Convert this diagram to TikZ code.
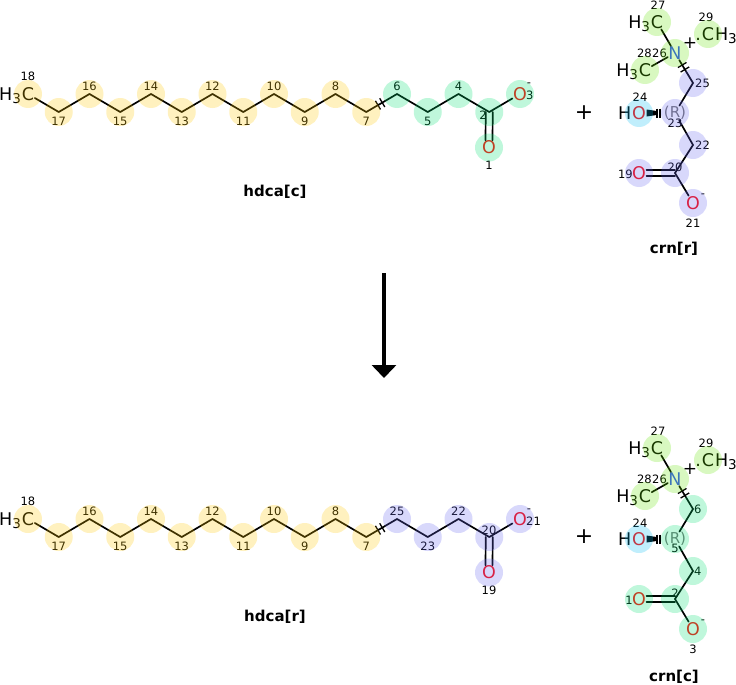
\documentclass[tikz,border=0pt]{standalone}
\usepackage{fontspec}
\setmainfont{DejaVu Sans}
\usetikzlibrary{arrows.meta, positioning, calc}
\definecolor{hlyellow}{RGB}{255, 200, 0}
\definecolor{hlmint}{RGB}{0, 224, 112}
\definecolor{hllavender}{RGB}{100, 100, 240}
\definecolor{hllime}{RGB}{99, 227, 3}
\definecolor{hlcyan}{RGB}{3, 187, 243}
\definecolor{ored}{RGB}{255, 13, 13}
\definecolor{nblue}{RGB}{48, 80, 248}
\newcommand{\subthree}{\raisebox{-0.3ex}{\fontsize{13.5}{13.5}\selectfont 3}}
\tikzset{
  atom/.style={inner sep=0.5pt, font=\fontsize{17.5}{17.5}\selectfont},
  num/.style={inner sep=0pt, font=\fontsize{11.5}{11.5}\selectfont},
  stereo/.style={inner sep=0.5pt, text=black!55, font=\fontsize{15}{15}\selectfont},
  charge/.style={inner sep=0pt, font=\fontsize{17}{17}\selectfont},
  molname/.style={font=\bfseries\fontsize{15}{15}\selectfont},
  plus/.style={font=\fontsize{22}{22}\selectfont},
  bond/.style={line width=1.7pt, line cap=round},
  hashmark/.style={line width=1.3pt},
  hl/.style={fill=#1, fill opacity=0.25},
  reaction/.style={line width=4pt, -{Triangle[width=24pt,length=13pt]}},
}

\begin{document}
\begin{tikzpicture}[x=1pt, y=-1pt]
  \useasboundingbox (0,0) rectangle (736,685);

  % hdca[c]
  \node[atom] (t0) at (28,94) {C};
  \node[atom, base left=0pt of t0, inner sep=0pt] (t0h) {H\subthree};
  \foreach \k in {1,...,15}
    \coordinate (t\k) at ({28+30.75*\k}, {94+18*mod(\k,2)});
  \node[atom, text=ored] (t16) at (520,94) {O};
  \node[atom, text=ored] (t17) at (489,147.5) {O};

  \node[num] (tn0) at (28,76) {18};
  \foreach \k/\lab in {1/17,2/16,3/15,4/14,5/13,6/12,7/11,8/10,9/9,10/8,11/7,12/6,13/5,14/4}
    \node[num] (tn\k) at ({28+30.75*\k}, {86+35*mod(\k,2)}) {\lab};
  \node[num] (tn15) at (483,115) {2};
  \node[num, anchor=west] (tn16) at (526,95) {3};
  \node[num] (tq16) at (529,85) {-};
  \node[num] (tn17) at (489,165) {1};

  \foreach \k [count=\j] in {0,...,15}
    \draw[bond] (t\k) -- (t\j);
  \draw[bond] ([xshift=-3.5pt]t15) -- ([xshift=-3.5pt]t17.north);
  \draw[bond] ([xshift=3.5pt]t15) -- ([xshift=3.5pt]t17.north);
  \foreach \f in {0.38,0.52}
    \draw[hashmark] ($(t11)!\f!(t12)!5pt!90:(t12)$) -- ($(t11)!\f!(t12)!5pt!-90:(t12)$);

  \foreach \k in {0,...,11}
    \fill[hl=hlyellow] (t\k.center) circle[radius=14pt];
  \foreach \k in {12,...,17}
    \fill[hl=hlmint] (t\k.center) circle[radius=14pt];

  \node[molname] (hdcac) at (275,192) {hdca[c]};
  \node[plus] (plus1) at (584,113) {+};

  % crn[r]
  \node[atom, text=nblue] (uN) at (675,53) {N};
  \node[atom] (uC27) at (657,22) {C};
  \node[atom, base left=0pt of uC27, inner sep=0pt] (uH27) {H\subthree};
  \node[atom] (uC28) at (645,70) {C};
  \node[atom, base left=0pt of uC28, inner sep=0pt] (uH28) {H\subthree};
  \node[atom] (uC29) at (708,34) {C};
  \node[atom, base right=0pt of uC29, inner sep=0pt] (uH29) {H\subthree};
  \node[atom, base left=0pt of uC29, inner sep=0pt] (uD29) {.};
  \coordinate (uC25) at (693,83);
  \node[stereo] (uC23) at (675,113) {(R)};
  \node[atom, text=ored] (uO24) at (639,113) {O};
  \node[atom, base left=0pt of uO24, inner sep=0pt] (uH24) {H};
  \coordinate (uC22) at (693,145);
  \coordinate (uC20) at (675,173);
  \node[atom, text=ored] (uO19) at (639,173) {O};
  \node[atom, text=ored] (uO21) at (693,203) {O};

  \node[num] (un27) at (658,5) {27};
  \node[num] (un29) at (706,17) {29};
  \node[num, anchor=east] (un28) at (652,53) {28};
  \node[num, anchor=west] (un26) at (652,53) {26};
  \node[num, anchor=west] (un25) at (695,83) {25};
  \node[num] (un24) at (640,97) {24};
  \node[num] (un23) at (675,123) {23};
  \node[num, anchor=west] (un22) at (695,145) {22};
  \node[num] (un20) at (675,167) {20};
  \node[num, anchor=east] (un19) at (633,174) {19};
  \node[num] (un21) at (693,223) {21};
  \node[num] (uq21) at (703,196) {-};
  \node[charge] (uq26) at (690,43) {+};

  \draw[bond] (uN) -- (uC27);
  \draw[bond] (uN) -- (uC28);
  \draw[bond] (uN) -- (uC25) -- (uC23);
  \draw[bond] (uC23) -- (uC22) -- (uC20) -- (uO21);
  \draw[bond] ([yshift=3pt]uC20) -- ([yshift=3pt]uO19.east);
  \draw[bond] ([yshift=-3pt]uC20) -- ([yshift=-3pt]uO19.east);
  \foreach \f in {0.4,0.55}
    \draw[hashmark] ($(uN.center)!\f!(uC25)!5pt!90:(uC25)$) -- ($(uN.center)!\f!(uC25)!5pt!-90:(uC25)$);
  \coordinate (uW) at ($(uO24.east)!0.6!(uC23.west)$);
  \fill ([yshift=3.5pt]uO24.east) -- ([yshift=-3.5pt]uO24.east) -- ([yshift=-2pt]uW) -- ([yshift=2pt]uW) -- cycle;
  \foreach \f in {0.62,0.8}
    \draw[hashmark] ($(uO24.east)!\f!(uC23.west)!4.5pt!90:(uC23.west)$) -- ($(uO24.east)!\f!(uC23.west)!4.5pt!-90:(uC23.west)$);

  \foreach \a in {uC27,uC28,uC29,uN}
    \fill[hl=hllime] (\a.center) circle[radius=14pt];
  \fill[hl=hlcyan] (uO24.center) circle[radius=14pt];
  \foreach \a in {uC25,uC23,uC22,uC20,uO19,uO21}
    \fill[hl=hllavender] (\a.center) circle[radius=14pt];

  \node[molname] (crnr) at (674,249) {crn[r]};

  % reaction arrow
  \coordinate (arrtop) at (384,273);
  \coordinate (arrbot) at (384,378);
  \draw[reaction] (arrtop) -- (arrbot);

  % hdca[r]
  \begin{scope}[shift={(0,425)}]
  \node[atom] (b0) at (28,94) {C};
  \node[atom, base left=0pt of b0, inner sep=0pt] (b0h) {H\subthree};
  \foreach \k in {1,...,15}
    \coordinate (b\k) at ({28+30.75*\k}, {94+18*mod(\k,2)});
  \node[atom, text=ored] (b16) at (520,94) {O};
  \node[atom, text=ored] (b17) at (489,147.5) {O};

  \node[num] (bn0) at (28,76) {18};
  \foreach \k/\lab in {1/17,2/16,3/15,4/14,5/13,6/12,7/11,8/10,9/9,10/8,11/7,12/25,13/23,14/22}
    \node[num] (bn\k) at ({28+30.75*\k}, {86+35*mod(\k,2)}) {\lab};
  \node[num] (bn15) at (489,105) {20};
  \node[num, anchor=west] (bn16) at (526,96) {21};
  \node[num] (bq16) at (529,86) {-};
  \node[num] (bn17) at (489,165) {19};

  \foreach \k [count=\j] in {0,...,15}
    \draw[bond] (b\k) -- (b\j);
  \draw[bond] ([xshift=-3.5pt]b15) -- ([xshift=-3.5pt]b17.north);
  \draw[bond] ([xshift=3.5pt]b15) -- ([xshift=3.5pt]b17.north);
  \foreach \f in {0.38,0.52}
    \draw[hashmark] ($(b11)!\f!(b12)!5pt!90:(b12)$) -- ($(b11)!\f!(b12)!5pt!-90:(b12)$);

  \foreach \k in {0,...,11}
    \fill[hl=hlyellow] (b\k.center) circle[radius=14pt];
  \foreach \k in {12,...,17}
    \fill[hl=hllavender] (b\k.center) circle[radius=14pt];

  \node[molname] (hdcar) at (275,192) {hdca[r]};
  \node[plus] (plus2) at (584,112) {+};
  \end{scope}

  % crn[c]
  \begin{scope}[shift={(0,426)}]
  \node[atom, text=nblue] (vN) at (675,53) {N};
  \node[atom] (vC27) at (657,22) {C};
  \node[atom, base left=0pt of vC27, inner sep=0pt] (vH27) {H\subthree};
  \node[atom] (vC28) at (645,70) {C};
  \node[atom, base left=0pt of vC28, inner sep=0pt] (vH28) {H\subthree};
  \node[atom] (vC29) at (708,34) {C};
  \node[atom, base right=0pt of vC29, inner sep=0pt] (vH29) {H\subthree};
  \node[atom, base left=0pt of vC29, inner sep=0pt] (vD29) {.};
  \coordinate (vC6) at (693,83);
  \node[stereo] (vC5) at (675,113) {(R)};
  \node[atom, text=ored] (vO24) at (639,113) {O};
  \node[atom, base left=0pt of vO24, inner sep=0pt] (vH24) {H};
  \coordinate (vC4) at (693,145);
  \coordinate (vC2) at (675,173);
  \node[atom, text=ored] (vO1) at (639,173) {O};
  \node[atom, text=ored] (vO3) at (693,203) {O};

  \node[num] (vn27) at (658,5) {27};
  \node[num] (vn29) at (706,17) {29};
  \node[num, anchor=east] (vn28) at (652,53) {28};
  \node[num, anchor=west] (vn26) at (652,53) {26};
  \node[num, anchor=west] (vn6) at (694,83) {6};
  \node[num] (vn24) at (640,97) {24};
  \node[num] (vn5) at (675,122) {5};
  \node[num, anchor=west] (vn4) at (694,145) {4};
  \node[num] (vn2) at (675,167) {2};
  \node[num, anchor=east] (vn1) at (633,174) {1};
  \node[num] (vn3) at (693,223) {3};
  \node[num] (vq3) at (703,196) {-};
  \node[charge] (vq26) at (690,43) {+};

  \draw[bond] (vN) -- (vC27);
  \draw[bond] (vN) -- (vC28);
  \draw[bond] (vN) -- (vC6) -- (vC5);
  \draw[bond] (vC5) -- (vC4) -- (vC2) -- (vO3);
  \draw[bond] ([yshift=3pt]vC2) -- ([yshift=3pt]vO1.east);
  \draw[bond] ([yshift=-3pt]vC2) -- ([yshift=-3pt]vO1.east);
  \foreach \f in {0.4,0.55}
    \draw[hashmark] ($(vN.center)!\f!(vC6)!5pt!90:(vC6)$) -- ($(vN.center)!\f!(vC6)!5pt!-90:(vC6)$);
  \coordinate (vW) at ($(vO24.east)!0.6!(vC5.west)$);
  \fill ([yshift=3.5pt]vO24.east) -- ([yshift=-3.5pt]vO24.east) -- ([yshift=-2pt]vW) -- ([yshift=2pt]vW) -- cycle;
  \foreach \f in {0.62,0.8}
    \draw[hashmark] ($(vO24.east)!\f!(vC5.west)!4.5pt!90:(vC5.west)$) -- ($(vO24.east)!\f!(vC5.west)!4.5pt!-90:(vC5.west)$);

  \foreach \a in {vC27,vC28,vC29,vN}
    \fill[hl=hllime] (\a.center) circle[radius=14pt];
  \fill[hl=hlcyan] (vO24.center) circle[radius=14pt];
  \foreach \a in {vC6,vC5,vC4,vC2,vO1,vO3}
    \fill[hl=hlmint] (\a.center) circle[radius=14pt];

  \node[molname] (crnc) at (674,251) {crn[c]};
  \end{scope}
\end{tikzpicture}
\end{document}
